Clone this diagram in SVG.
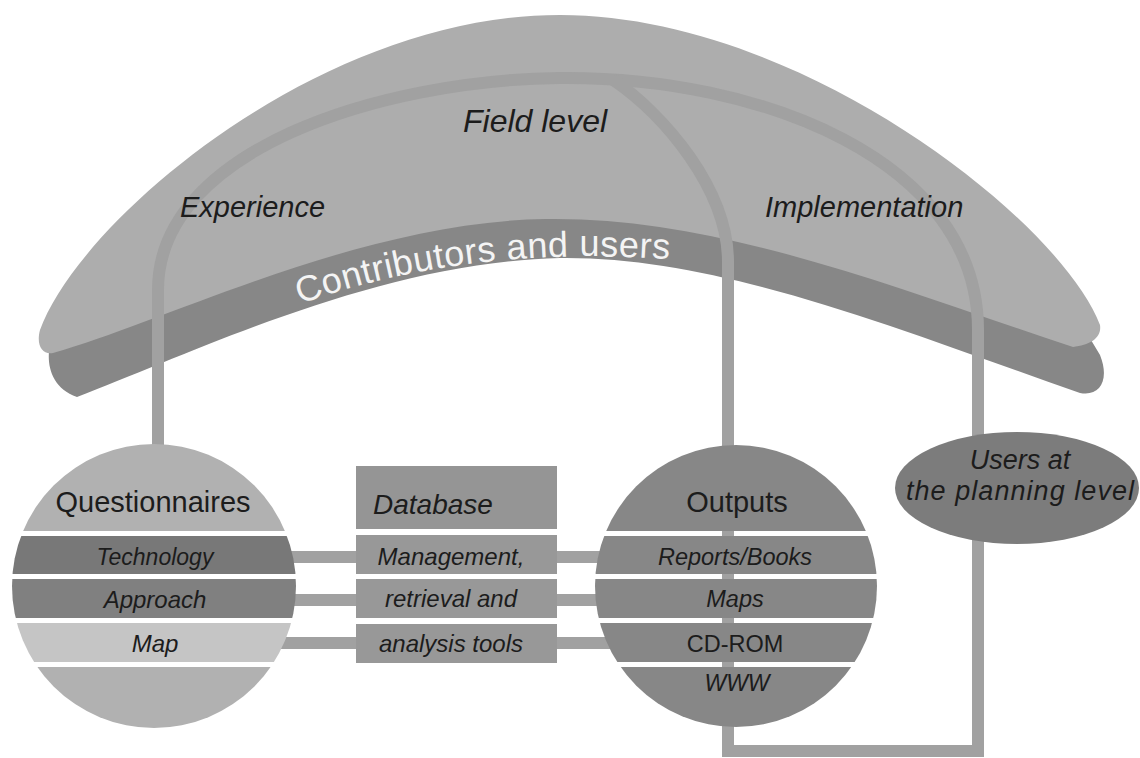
<svg xmlns="http://www.w3.org/2000/svg" width="1140" height="758" viewBox="0 0 1140 758">
  <style>
    .lbl { font-family: "Liberation Sans", Arial, sans-serif; fill: #1c1c1c; }
    .it { font-style: italic; }
    .mid { text-anchor: middle; }
    .conn { fill: none; stroke: #a1a1a1; stroke-width: 12; }
  </style>
  <defs>
    <clipPath id="clipQ"><circle cx="154" cy="586" r="142"/></clipPath>
    <clipPath id="clipO"><circle cx="736" cy="586" r="141"/></clipPath>
    <path id="bandCurve" d="M 300 304 Q 480 240, 700 262"/>
  </defs>

  <!-- Field level arch: dark underside band, light upper body -->
  <g id="field-level">
    <path fill="#878787" d="M 77 397 C 200 350, 380 262, 560 258 C 720 256, 900 330, 1080 393 C 1100 397, 1110 380, 1100 355 L 1085 330 L 560 150 L 55 335 C 46 345, 42 385, 77 397 Z"/>
    <path fill="#adadad" d="M 53 353 C 170 320, 360 222, 545 219 C 720 216, 900 290, 1073 347 C 1090 345, 1102 338, 1100 325 C 1060 220, 800 15, 560 15 C 320 15, 80 220, 40 330 C 36 345, 42 355, 53 353 Z"/>
    <text class="lbl" font-size="36" style="fill:#f4f4f4" letter-spacing="0.5"><textPath href="#bandCurve">Contributors and users</textPath></text>
  </g>

  <!-- Connectors -->
  <g id="connectors">
    <path class="conn" d="M 158 450 L 158 290 C 158 150, 380 80, 560 78 C 760 76, 978 160, 978 330 L 978 751 L 728 751"/>
    <path class="conn" d="M 612 79 C 665 115, 728 190, 728 262 L 728 757"/>
    <path class="conn" d="M 220 557 L 680 557"/>
    <path class="conn" d="M 220 600 L 680 600"/>
    <path class="conn" d="M 220 643 L 680 643"/>
  </g>

  <g id="field-level-labels">
    <text class="lbl it mid" x="535" y="132" font-size="32">Field level</text>
    <text class="lbl it" x="180" y="217" font-size="29">Experience</text>
    <text class="lbl it" x="765" y="217" font-size="29">Implementation</text>
  </g>

  <!-- Questionnaires -->
  <g id="questionnaires" clip-path="url(#clipQ)">
    <rect x="10" y="440" width="290" height="91" fill="#b1b1b1"/>
    <rect x="10" y="536" width="290" height="38" fill="#787878"/>
    <rect x="10" y="579" width="290" height="39" fill="#808080"/>
    <rect x="10" y="623" width="290" height="39" fill="#c5c5c5"/>
    <rect x="10" y="667" width="290" height="65" fill="#b1b1b1"/>
  </g>
  <g id="questionnaires-text">
    <text class="lbl mid" x="153" y="512" font-size="29">Questionnaires</text>
    <text class="lbl it mid" x="155" y="565" font-size="23">Technology</text>
    <text class="lbl it mid" x="155" y="608" font-size="24">Approach</text>
    <text class="lbl it mid" x="155" y="652" font-size="24">Map</text>
  </g>

  <!-- Database -->
  <g id="database">
    <rect x="356" y="466" width="201" height="63" fill="#959595"/>
    <rect x="356" y="535" width="201" height="39" fill="#989898"/>
    <rect x="356" y="579" width="201" height="39" fill="#989898"/>
    <rect x="356" y="624" width="201" height="39" fill="#989898"/>
    <text class="lbl it" x="373" y="514" font-size="28">Database</text>
    <text class="lbl it mid" x="451" y="565" font-size="24">Management,</text>
    <text class="lbl it mid" x="451" y="607" font-size="24">retrieval and</text>
    <text class="lbl it mid" x="451" y="652" font-size="24">analysis tools</text>
  </g>

  <!-- Outputs -->
  <g id="outputs" clip-path="url(#clipO)">
    <rect x="590" y="440" width="292" height="91" fill="#878787"/>
    <rect x="590" y="536" width="292" height="38" fill="#878787"/>
    <rect x="590" y="579" width="292" height="39" fill="#878787"/>
    <rect x="590" y="623" width="292" height="39" fill="#878787"/>
    <rect x="590" y="667" width="292" height="65" fill="#878787"/>
  </g>
  <g id="outputs-text">
    <text class="lbl mid" x="737" y="512" font-size="29">Outputs</text>
    <text class="lbl it mid" x="735" y="565" font-size="23.5">Reports/Books</text>
    <text class="lbl it mid" x="735" y="607" font-size="23.5">Maps</text>
    <text class="lbl mid" x="735" y="652" font-size="23.5">CD-ROM</text>
    <text class="lbl it mid" x="737" y="691" font-size="23">WWW</text>
  </g>

  <!-- Users at the planning level -->
  <g id="planning-users">
    <ellipse cx="1017" cy="488" rx="122" ry="56" fill="#7c7c7c"/>
    <text class="lbl it mid" x="1020" y="469" font-size="27">Users at</text>
    <text class="lbl it mid" x="1020" y="500" font-size="27" textLength="228" lengthAdjust="spacing">the planning level</text>
  </g>
</svg>
